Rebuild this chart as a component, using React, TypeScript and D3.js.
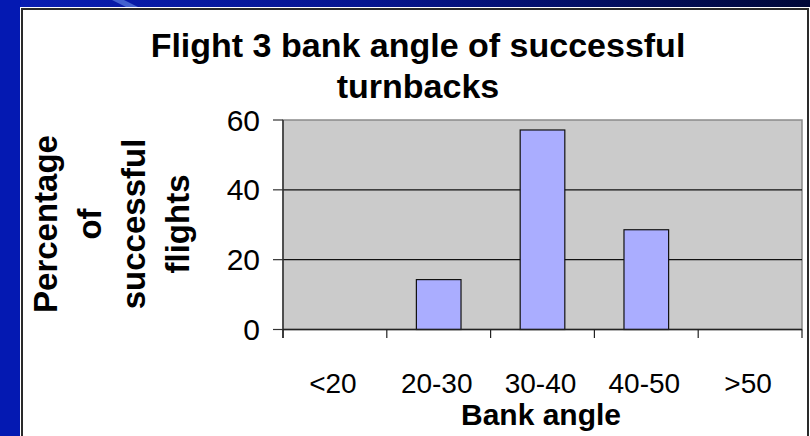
import React from "react";
import * as d3 from "d3";

const categories = ["<20", "20-30", "30-40", "40-50", ">50"];
const values = [0, 14.29, 57.14, 28.57, 0];
const yTicks = [0, 20, 40, 60];
const titleLines = ["Flight 3 bank angle of successful", "turnbacks"];
const yTitleLines = ["Percentage", "of", "successful", "flights"];
const xTitle = "Bank angle";

const W = 810;
const H = 436;
const FONT = "Arial, 'Liberation Sans', sans-serif";

export default function App() {
  const x = d3.scaleBand<string>().domain(categories).range([283, 802]).paddingInner(0).paddingOuter(0);
  const y = d3.scaleLinear().domain([0, 60]).range([329.5, 120]);
  const bw = x.bandwidth() * 0.43;
  const boundaries = d3.range(categories.length + 1).map((i) => 283 + i * x.bandwidth());

  return (
    <svg width={W} height={H} style={{ position: "absolute", left: 0, top: 0 }} xmlns="http://www.w3.org/2000/svg">
      <defs>
        <linearGradient id="bgTop" x1="0" y1="0" x2="1" y2="0">
          <stop offset="0" stopColor="#0A1EB4" />
          <stop offset="0.45" stopColor="#061590" />
          <stop offset="1" stopColor="#000838" />
        </linearGradient>
      </defs>
      <rect x={0} y={0} width={W} height={H} fill="url(#bgTop)" />
      <rect x={0} y={0} width={21} height={H} fill="#0419B2" />
      <polygon points="112,0 124,0 140,8 128,8" fill="#5C7FE0" opacity={0.7} />
      {/* chart area */}
      <rect x={20} y={7} width={W - 20} height={H} fill="#FFFFFF" />
      <rect x={22} y={9} width={786} height={H + 20} fill="#FFFFFF" stroke="#2a2a2a" strokeWidth={2} />

      {/* plot area */}
      <rect x={283} y={y(60)} width={802 - 283} height={y(0) - y(60)} fill="#CBCBCB" stroke="#8A8A8A" strokeWidth={1.5} />
      {yTicks.filter((t) => t > 0 && t < 60).map((t) => (
        <line key={t} x1={283} x2={802} y1={y(t)} y2={y(t)} stroke="#111" strokeWidth={1.2} />
      ))}
      {/* bars */}
      {categories.map((c, i) =>
        values[i] > 0 ? (
          <rect
            key={c}
            x={(x(c) as number) + x.bandwidth() / 2 - bw / 2}
            y={y(values[i])}
            width={bw}
            height={y(0) - y(values[i])}
            fill="#AAADFF"
            stroke="#111"
            strokeWidth={1.2}
          />
        ) : null
      )}
      {/* axes */}
      <line x1={283} x2={283} y1={y(60)} y2={338} stroke="#333" strokeWidth={1.5} />
      <line x1={283} x2={802} y1={y(0)} y2={y(0)} stroke="#222" strokeWidth={1.5} />
      {yTicks.map((t) => (
        <line key={"yt" + t} x1={273} x2={283} y1={y(t)} y2={y(t)} stroke="#333" strokeWidth={1.2} />
      ))}
      {boundaries.map((b, i) => (
        <line key={"xt" + i} x1={b} x2={b} y1={y(0)} y2={338} stroke="#222" strokeWidth={1.2} />
      ))}
      {yTicks.map((t) => (
        <text key={"yl" + t} x={260} y={y(t) + 10.5} textAnchor="end" fontFamily={FONT} fontSize={30} fill="#000">
          {t}
        </text>
      ))}
      {categories.map((c) => (
        <text key={"xl" + c} x={(x(c) as number) + x.bandwidth() / 2 - 2} y={393} textAnchor="middle" fontFamily={FONT} fontSize={28} fill="#000">
          {c}
        </text>
      ))}
      <text x={541} y={425} textAnchor="middle" fontFamily={FONT} fontWeight="bold" fontSize={30} fill="#000">
        {xTitle}
      </text>
      {titleLines.map((l, i) => (
        <text key={"t" + i} x={418} y={57 + i * 41} textAnchor="middle" fontFamily={FONT} fontWeight="bold" fontSize={34} fill="#000">
          {l}
        </text>
      ))}
      {yTitleLines.map((l, i) => (
        <text
          key={"ya" + i}
          transform={`translate(${57 + i * 44},224) rotate(-90)`}
          textAnchor="middle"
          fontFamily={FONT}
          fontWeight="bold"
          fontSize={33}
          fill="#000"
        >
          {l}
        </text>
      ))}
    </svg>
  );
}
